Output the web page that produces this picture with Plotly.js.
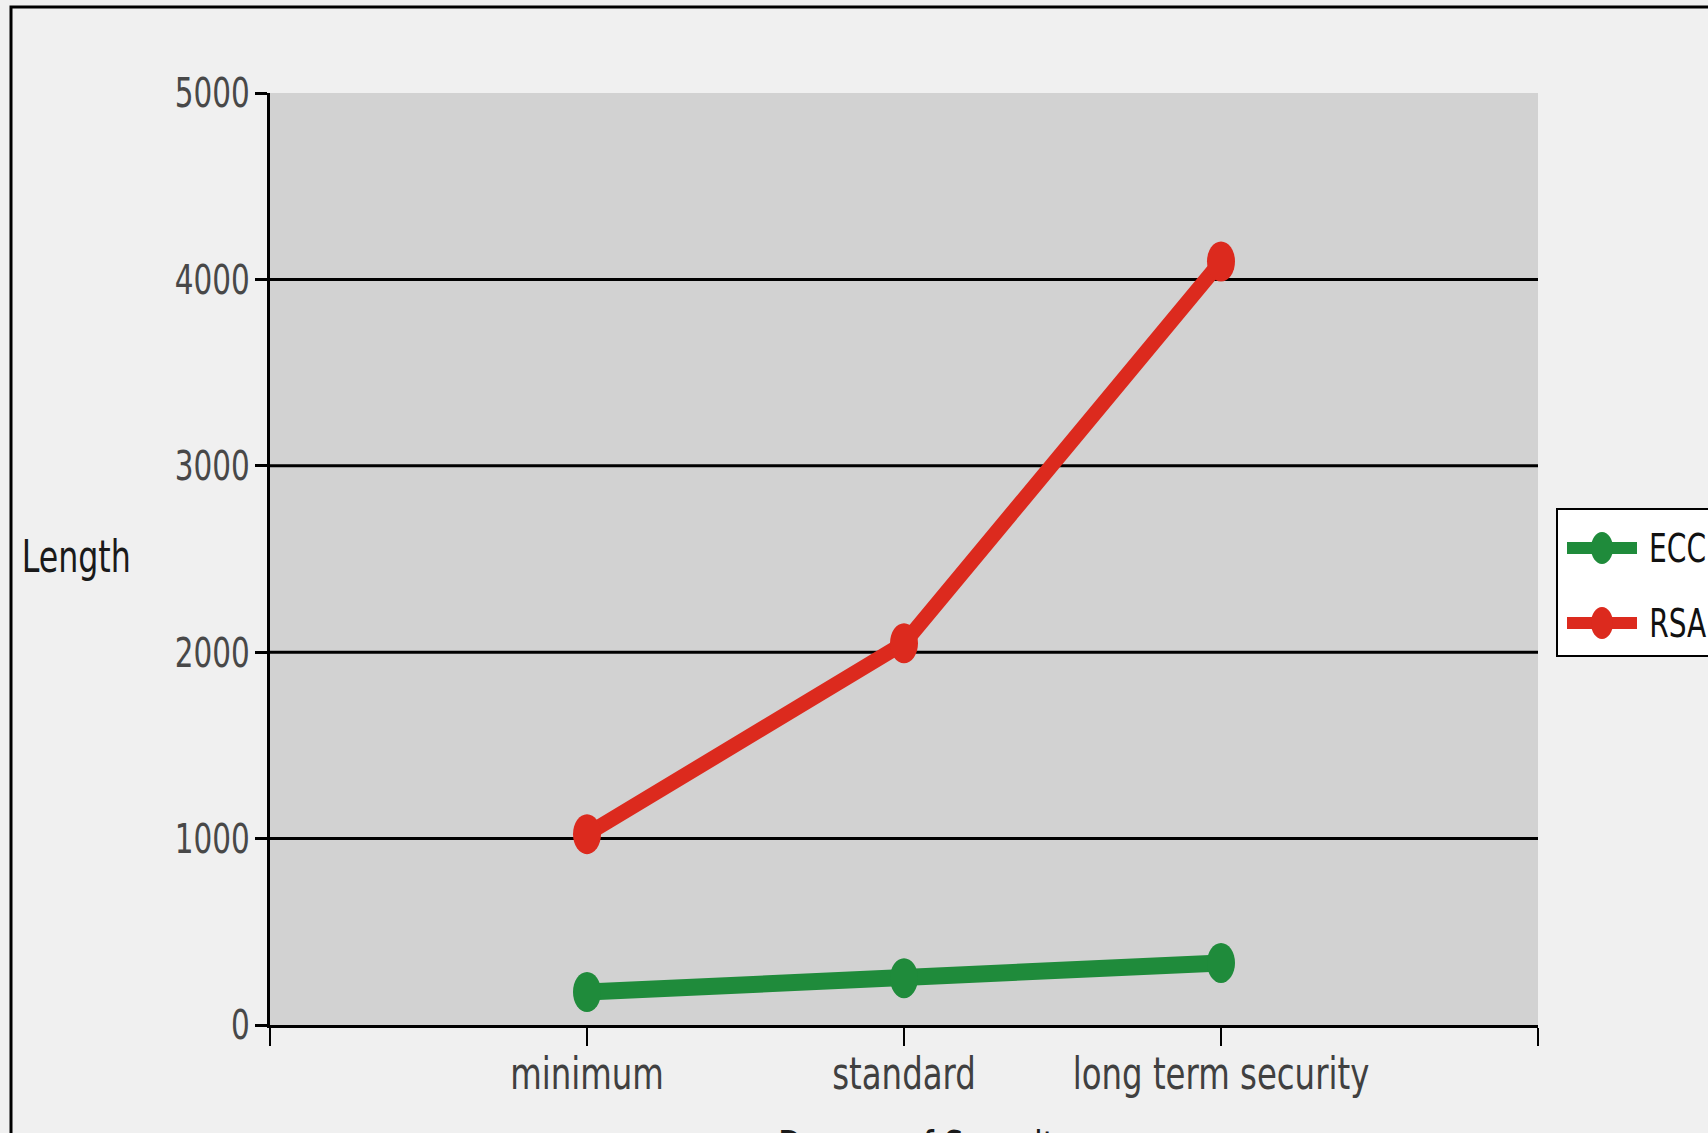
<!DOCTYPE html>
<html>
<head>
<meta charset="utf-8">
<script src="https://cdn.plot.ly/plotly-3.0.1.min.js"></script>
<style>
  html, body { margin: 0; padding: 0; background: #f0f0f0; }
  #chart { width: 1708px; height: 1133px; }
</style>
</head>
<body>
<div id="chart"></div>
<script>
// ---- data ----
const categories = ['minimum', 'standard', 'long term security'];
const eccValues = [177, 251, 333];
const rsaValues = [1024, 2048, 4096];
const seriesNames = ['ECC', 'RSA'];
const yTickValues = [0, 1000, 2000, 3000, 4000, 5000];
const yTitleText = 'Length';
const xTitleText = 'Degree of Security';

// ---- styles ----
const FONT = '"DejaVu Sans Condensed", "Liberation Sans Narrow", "DejaVu Sans", sans-serif';
const TEXT_SQUEEZE = 0.8;   // reference typeface is narrow
const colors = { ECC: '#1f8b3b', RSA: '#dc2a1e' };
const seriesValues = { ECC: eccValues, RSA: rsaValues };

// plot-area pixel geometry (for paper-coordinate conversion of decorations)
const W = 1708, H = 1133;
const M = { l: 270, r: 170, t: 93, b: 108 };
const plotW = W - M.l - M.r, plotH = H - M.t - M.b;
const px = x => (x - M.l) / plotW;
const py = y => (H - M.b - y) / plotH;

// category positions on a numeric axis with one empty slot each side
const xPos = categories.map((c, i) => i + 1);
const xTickVals = [0, ...xPos, categories.length + 1];
const xTickText = ['', ...categories, ''];

const traces = seriesNames.map(name => ({
  type: 'scatter',
  mode: 'lines',
  name: name,
  x: xPos,
  y: seriesValues[name],
  line: { color: colors[name], width: name === 'ECC' ? 17 : 15 },
  showlegend: false,
  hoverinfo: 'x+y+name'
}));

const shapes = [];
// horizontal gridlines (not at 0 or top)
yTickValues.filter(v => v > 0 && v < yTickValues[yTickValues.length - 1]).forEach(v => {
  shapes.push({ type: 'line', xref: 'paper', yref: 'y', x0: 0, x1: 1, y0: v, y1: v,
    line: { color: '#000', width: 3 }, layer: 'below' });
});
// elliptical markers at data points
seriesNames.forEach(name => {
  seriesValues[name].forEach((v, i) => {
    shapes.push({ type: 'circle', xref: 'x', yref: 'y', xsizemode: 'pixel', ysizemode: 'pixel',
      xanchor: xPos[i], yanchor: v, x0: -14, x1: 14, y0: -20, y1: 20,
      fillcolor: colors[name], line: { width: 0 }, layer: 'above' });
  });
});
// outer frame (cropped on the right and bottom)
shapes.push({ type: 'rect', xref: 'paper', yref: 'paper', x0: px(11), x1: 1.6, y0: -0.5, y1: py(7),
  line: { color: '#000', width: 3 }, fillcolor: 'rgba(0,0,0,0)', layer: 'below' });
// legend box
shapes.push({ type: 'rect', xref: 'paper', yref: 'paper', x0: px(1557), x1: 1.6, y0: py(656), y1: py(509),
  line: { color: '#000', width: 2 }, fillcolor: '#ffffff', layer: 'above' });
const legendRowsY = [548, 623];
const annotations = [];
seriesNames.forEach((name, k) => {
  const yy = py(legendRowsY[k]);
  shapes.push({ type: 'line', xref: 'paper', yref: 'paper', x0: px(1567), x1: px(1637), y0: yy, y1: yy,
    line: { color: colors[name], width: 12 }, layer: 'above' });
  shapes.push({ type: 'circle', xref: 'paper', yref: 'paper', xsizemode: 'pixel', ysizemode: 'pixel',
    xanchor: px(1602), yanchor: yy, x0: -11, x1: 11, y0: -16, y1: 16,
    fillcolor: colors[name], line: { width: 0 }, layer: 'above' });
  annotations.push({ xref: 'paper', yref: 'paper', x: px(1640), y: yy, xanchor: 'left', yanchor: 'middle',
    text: name, showarrow: false, font: { family: FONT, size: 39, color: '#111' } });
});
// axis titles
annotations.push({ xref: 'paper', yref: 'paper', x: px(6), y: py(556), xanchor: 'left', yanchor: 'middle',
  text: yTitleText, showarrow: false, font: { family: FONT, size: 44, color: '#1a1a1a' } });
annotations.push({ xref: 'paper', yref: 'paper', x: px(926), y: py(1120), xanchor: 'center', yanchor: 'top',
  text: xTitleText, showarrow: false, font: { family: FONT, size: 44, color: '#1a1a1a' } });

const layout = {
  width: W, height: H,
  margin: M,
  paper_bgcolor: '#f0f0f0',
  plot_bgcolor: '#d2d2d2',
  showlegend: false,
  xaxis: {
    type: 'linear',
    range: [0, categories.length + 1],
    tickmode: 'array', tickvals: xTickVals, ticktext: xTickText,
    showline: true, linecolor: '#000', linewidth: 3,
    ticks: 'outside', ticklen: 18, tickwidth: 2, tickcolor: '#000',
    ticklabelstandoff: -11,
    showgrid: false, zeroline: false,
    tickfont: { family: FONT, size: 45, color: '#404040' },
    fixedrange: true
  },
  yaxis: {
    range: [0, yTickValues[yTickValues.length - 1]],
    tickmode: 'array', tickvals: yTickValues, ticktext: yTickValues.map(String),
    showline: true, linecolor: '#000', linewidth: 3,
    ticks: 'outside', ticklen: 12, tickwidth: 3, tickcolor: '#000',
    ticklabelstandoff: -3,
    showgrid: false, zeroline: false,
    tickfont: { family: FONT, size: 41, color: '#484848' },
    fixedrange: true
  },
  shapes: shapes,
  annotations: annotations
};

Plotly.newPlot('chart', traces, layout, { displayModeBar: false, staticPlot: true }).then(gd => {
  // narrow the glyphs to mimic the condensed typeface of the original
  gd.querySelectorAll('text').forEach(t => {
    if (!t.textContent.trim()) return;
    const L = t.getComputedTextLength();
    if (L > 0) {
      t.setAttribute('textLength', (L * TEXT_SQUEEZE).toFixed(1));
      t.setAttribute('lengthAdjust', 'spacingAndGlyphs');
    }
  });
});
</script>
</body>
</html>
